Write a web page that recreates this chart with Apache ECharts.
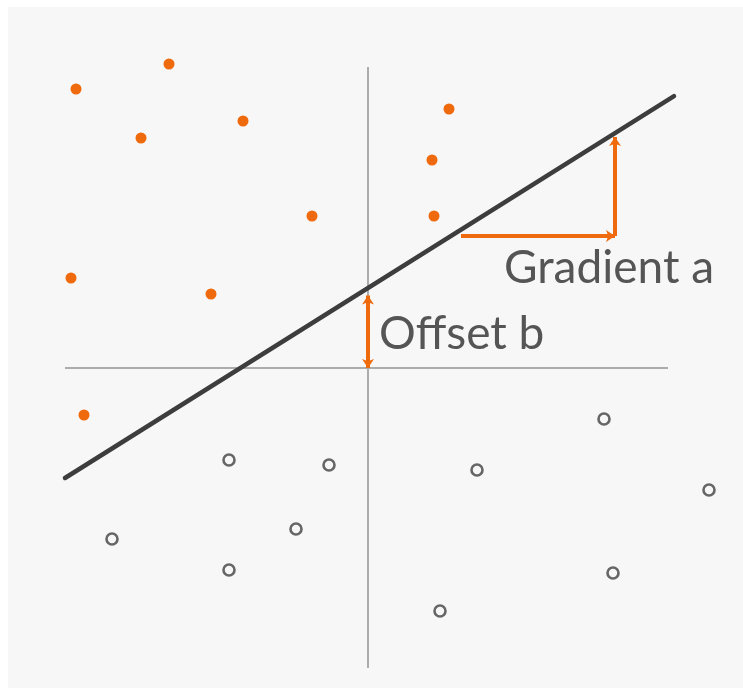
<!DOCTYPE html>
<html>
<head>
<meta charset="utf-8">
<script src="https://cdn.jsdelivr.net/npm/echarts@6/dist/echarts.min.js"></script>
<style>
html,body{margin:0;padding:0;background:#fff;}
#chart{width:743px;height:688px;}
</style>
</head>
<body>
<div id="chart"></div>
<script>
// Class A points (filled orange), above the line
const classA = [
  [-5.84, 5.58], [-3.98, 6.08], [-4.54, 4.60], [-2.50, 4.94], [-1.12, 3.04],
  [-5.94, 1.80], [-3.14, 1.48], [-5.68, -0.94], [1.62, 5.18], [1.28, 4.16], [1.32, 3.04]
];
// Class B points (open gray circles), below the line
const classB = [
  [-2.78, -1.84], [-0.78, -1.94], [-5.12, -3.42], [-1.44, -3.22], [-2.78, -4.04],
  [4.72, -1.02], [2.18, -2.04], [6.82, -2.44], [4.90, -4.10], [1.44, -4.86]
];
// Separating line y = a*x + b
const gradientA = 0.627;
const offsetB = 1.6;
const lineXs = [-6.06, 6.12];
// Coordinate cross
const xAxisSpan = [-6.06, 6.0];
const yAxisSpan = [-6.0, 6.02];
// Gradient triangle
const gradStartX = 1.86, gradEndX = 4.94, gradBaseY = 2.64, gradTopY = 4.62;
// Offset arrow
const offsetArrowTop = 1.45;
// Labels
const labels = [
  { text: 'Gradient a', pos: [2.72, 2.0] },
  { text: 'Offset b', pos: [0.22, 0.68] }
];

const orange = '#ef6a0c';
const chart = echarts.init(document.getElementById('chart'));
chart.setOption({
  backgroundColor: '#ffffff',
  animation: false,
  grid: { left: 8, top: 7, right: 0, bottom: 0, show: true, backgroundColor: '#f7f7f7', borderWidth: 0 },
  xAxis: { type: 'value', min: -7.2, max: 7.5, show: false },
  yAxis: { type: 'value', min: -6.4, max: 7.22, show: false },
  series: [
    {
      type: 'line', data: [[xAxisSpan[0], 0], [xAxisSpan[1], 0]], symbol: 'none',
      lineStyle: { color: '#acacac', width: 2 }, z: 1
    },
    {
      type: 'line', data: [[0, yAxisSpan[0]], [0, yAxisSpan[1]]], symbol: 'none',
      lineStyle: { color: '#acacac', width: 2 }, z: 1
    },
    {
      type: 'line', data: lineXs.map(x => [x, gradientA * x + offsetB]), symbol: 'none',
      lineStyle: { color: '#3d3d3d', width: 4.5, cap: 'round' }, z: 3
    },
    {
      type: 'lines', coordinateSystem: 'cartesian2d', z: 4,
      symbol: ['none', 'arrow'], symbolSize: 9,
      lineStyle: { color: orange, width: 4, opacity: 1, curveness: 0 },
      data: [
        { coords: [[gradStartX, gradBaseY], [gradEndX, gradBaseY]] },
        { coords: [[gradEndX, gradBaseY], [gradEndX, gradTopY]] }
      ]
    },
    {
      type: 'lines', coordinateSystem: 'cartesian2d', z: 4,
      symbol: ['arrow', 'arrow'], symbolSize: 9,
      lineStyle: { color: orange, width: 4, opacity: 1, curveness: 0 },
      data: [ { coords: [[0, 0], [0, offsetArrowTop]] } ]
    },
    {
      type: 'scatter', data: classA, symbol: 'circle', symbolSize: 11,
      itemStyle: { color: orange, opacity: 1 }, z: 5
    },
    {
      type: 'scatter', data: classB, symbol: 'circle', symbolSize: 11,
      itemStyle: { color: '#f7f7f7', borderColor: '#666666', borderWidth: 2.6, opacity: 1 }, z: 5
    },
    {
      type: 'scatter', symbolSize: 0, z: 6, silent: true,
      itemStyle: { opacity: 1 },
      data: labels.map(l => ({ value: l.pos, name: l.text })),
      label: {
        show: true, position: 'right', distance: 0, opacity: 1,
        formatter: p => p.name,
        fontFamily: 'Lato', fontSize: 46, color: '#555555'
      }
    }
  ]
});
</script>
</body>
</html>
